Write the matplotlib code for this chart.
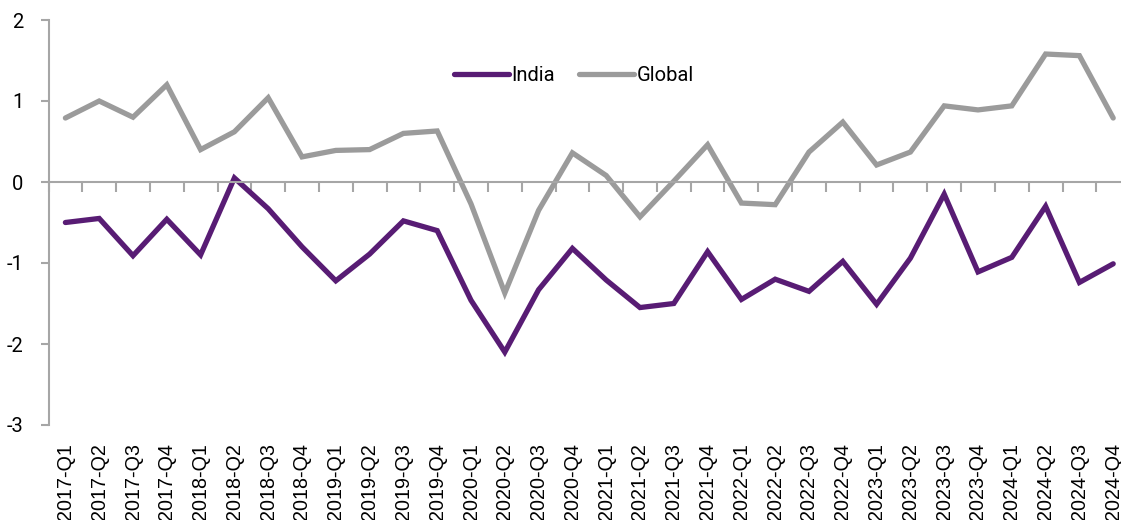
import matplotlib
matplotlib.use("Agg")
import matplotlib.pyplot as plt
import matplotlib.transforms as mtransforms

quarters = [f"{y}-Q{q}" for y in range(2017, 2025) for q in range(1, 5)]

india = [-0.50, -0.45, -0.91, -0.46, -0.90, 0.05, -0.33, -0.80,
         -1.22, -0.89, -0.48, -0.60, -1.46, -2.10, -1.33, -0.82,
         -1.21, -1.55, -1.50, -0.86, -1.45, -1.20, -1.35, -0.98,
         -1.51, -0.94, -0.15, -1.11, -0.93, -0.30, -1.24, -1.01]

globl = [0.79, 1.00, 0.80, 1.20, 0.40, 0.62, 1.04, 0.31,
         0.39, 0.40, 0.60, 0.63, -0.27, -1.37, -0.35, 0.36,
         0.08, -0.43, 0.01, 0.46, -0.26, -0.28, 0.37, 0.74,
         0.21, 0.37, 0.94, 0.89, 0.94, 1.58, 1.56, 0.79]

series_names = ["India", "Global"]
yticks = [-3, -2, -1, 0, 1, 2]

PURPLE = "#581c74"
GRAY = "#9b9b9b"
AXC = "#a6a6a6"

fig = plt.figure(figsize=(11.21, 5.20), dpi=100)
W, H = 1121, 520
left_px, right_px = 48.5, 48.5 + 33.8 * len(quarters)
top_px, bot_px = 20, 425
ax = fig.add_axes([left_px / W, (H - bot_px) / H, (right_px - left_px) / W, (bot_px - top_px) / H])

x = list(range(len(quarters)))
ax.plot(x, india, color=PURPLE, lw=3.8, label=series_names[0], solid_joinstyle="miter", solid_capstyle="round")
ax.plot(x, globl, color=GRAY, lw=3.8, label=series_names[1], solid_joinstyle="miter", solid_capstyle="round")

ax.set_xlim(-0.5, len(quarters) - 0.5)
ax.set_ylim(-3, 2)

for s in ["top", "right"]:
    ax.spines[s].set_visible(False)
ax.spines["left"].set_color(AXC)
ax.spines["left"].set_linewidth(1.5)
ax.spines["bottom"].set_position(("data", 0))
ax.spines["bottom"].set_color(AXC)
ax.spines["bottom"].set_linewidth(1.5)

ax.set_yticks(yticks)
ax.set_yticklabels([str(v) for v in yticks], fontsize=14.5, family="Roboto")
ax.tick_params(axis="y", direction="out", length=6, width=1.5, color=AXC, pad=12)

bounds = [i - 0.5 for i in range(len(quarters) + 1)]
ax.set_xticks(bounds)
ax.tick_params(axis="x", direction="out", length=7, width=1.5, color=AXC, labelbottom=False)

trans = mtransforms.blended_transform_factory(ax.transData, ax.transAxes)
offset = mtransforms.ScaledTranslation(0, -18 / 100, fig.dpi_scale_trans)
for i, q in enumerate(quarters):
    ax.text(i, 0, q, transform=trans + offset, rotation=90, ha="center", va="top",
            fontsize=14.2, family="Liberation Sans")

leg = ax.legend(loc="center", bbox_to_anchor=(0.486, 0.864), ncol=2, frameon=False,
                prop={"family": "Roboto", "size": 14.5}, handlelength=2.7,
                handletextpad=0.15, columnspacing=1.2)
for h in leg.get_lines():
    h.set_solid_capstyle("round")

fig.savefig("out.png", dpi=100)
